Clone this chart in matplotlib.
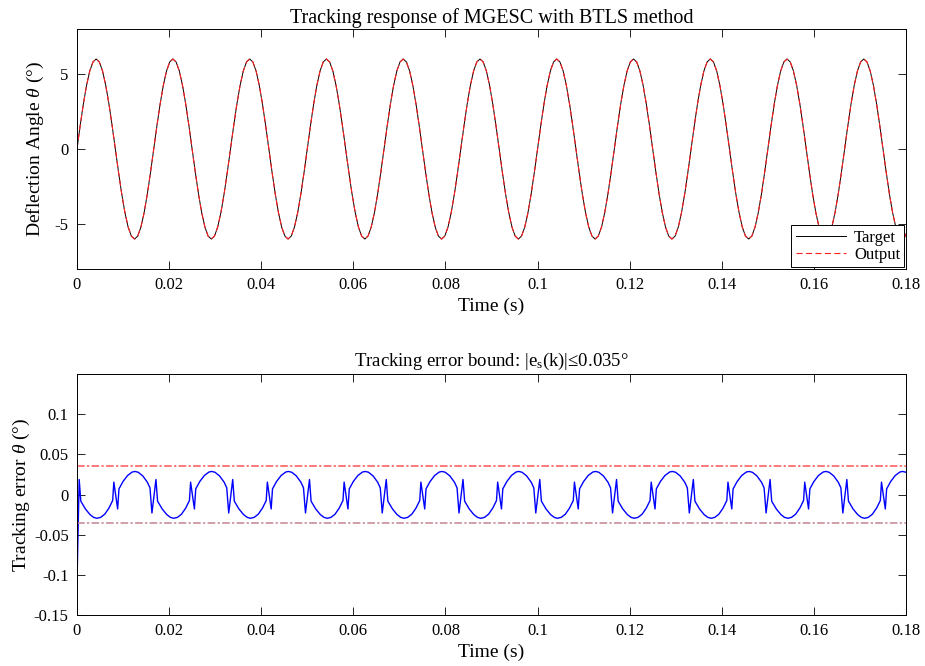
import numpy as np
import matplotlib
matplotlib.use("Agg")
import matplotlib.pyplot as plt

plt.rcParams['font.family'] = ['Liberation Serif', 'DejaVu Serif']
plt.rcParams['mathtext.fontset'] = 'custom'
plt.rcParams['mathtext.rm'] = 'Liberation Serif'
plt.rcParams['mathtext.it'] = 'Liberation Serif:italic'
plt.rcParams['axes.unicode_minus'] = False

# ---- data ----
period = 1 / 60.0          # one cycle of the reference, s
n_cycles = 11
# one cycle of the target angle (deg), 24 samples
target_cycle = [0.0, 1.55, 3.0, 4.24, 5.2, 5.8, 6.0, 5.8, 5.2, 4.24, 3.0, 1.55,
                0.0, -1.55, -3.0, -4.24, -5.2, -5.8, -6.0, -5.8, -5.2, -4.24, -3.0, -1.55]

# one cycle of the tracking error (time in s, value in deg)
err_t = [0.00912, 0.0100, 0.0110, 0.0120, 0.0126, 0.0133, 0.0143, 0.0153, 0.01585,
         0.01628, 0.01715, 0.0175,
         0.0185, 0.0195, 0.0203, 0.0210, 0.0218, 0.0227, 0.0236, 0.02442,
         0.02467, 0.0255]
err_v = [0.007, 0.0162, 0.0237, 0.0280, 0.0287, 0.0277, 0.0231, 0.0152, 0.0083,
         -0.023, 0.0187, -0.0083,
         -0.0180, -0.0250, -0.0285, -0.0296, -0.0285, -0.0245, -0.0170, -0.0075,
         0.0154, -0.018]
err_start = (0.0, -0.112)
bound = 0.035

x_ticks = [0, 0.02, 0.04, 0.06, 0.08, 0.1, 0.12, 0.14, 0.16, 0.18]
x_labels = ['0', '0.02', '0.04', '0.06', '0.08', '0.1', '0.12', '0.14', '0.16', '0.18']
y1_ticks = [-5, 0, 5]
y2_ticks = [-0.15, -0.1, -0.05, 0, 0.05, 0.1]
y2_labels = ['-0.15', '-0.1', '-0.05', '0', '0.05', '0.1']

# build series
m = len(target_cycle)
t_sig = np.arange(m * n_cycles + 1) * period / m
y_target = np.array(target_cycle * n_cycles + [target_cycle[0]])
y_output = y_target.copy()

te, ve = [err_start[0]], [err_start[1]]
for k in range(-1, n_cycles):
    for a, b in zip(err_t, err_v):
        tt = a + k * period
        if 0 < tt <= 0.1805:
            te.append(tt)
            ve.append(b)

fig = plt.figure(figsize=(9.25, 6.66), dpi=100)
ax1 = fig.add_axes([0.0832, 0.596, 0.8963, 0.3605])
ax2 = fig.add_axes([0.0832, 0.0766, 0.8963, 0.3618])

fs = 12
lfs = 14

l1, = ax1.plot(t_sig, y_target, color='black', lw=0.7, label='Target')
l2, = ax1.plot(t_sig, y_output, color='#ff2020', lw=0.8, dashes=(5.5, 3), label='Output')
ax1.set_xlim(0, 0.18)
ax1.set_ylim(-8, 8)
ax1.set_yticks(y1_ticks)
ax1.set_yticklabels([str(v) for v in y1_ticks])
ax1.set_title('Tracking response of MGESC with BTLS method', fontsize=14.5, pad=4)
ax1.set_xlabel('Time (s)', fontsize=lfs, labelpad=3)
ax1.set_ylabel(r'Deflection Angle $\it{\theta}$ (°)', fontsize=lfs, labelpad=6)
leg = ax1.legend(loc='lower right', fontsize=12, fancybox=False, framealpha=1,
                 edgecolor='black', borderaxespad=0.1, handlelength=3.0,
                 borderpad=0.25, labelspacing=0.1, handletextpad=0.5)
leg.get_frame().set_linewidth(0.7)

ax2.plot(te, ve, color='#0000ff', lw=1.0)
ax2.axhline(bound, color='#ff5555', lw=1.1, linestyle=(0, (5, 1.5, 1.5, 1.5)))
ax2.axhline(-bound, color='#c4858f', lw=1.1, linestyle=(0, (5, 1.5, 1.5, 1.5)))
ax2.set_xlim(0, 0.18)
ax2.set_ylim(-0.15, 0.15)
ax2.set_yticks(y2_ticks)
ax2.set_yticklabels(y2_labels)
ax2.set_title(r'Tracking error bound: |e$_\mathrm{s}$(k)|≤0.035°', fontsize=13.5, pad=6)
ax2.set_xlabel('Time (s)', fontsize=lfs, labelpad=3)
ax2.set_ylabel(r'Tracking error $\it{\theta}$ (°)', fontsize=lfs, labelpad=1)

for ax in (ax1, ax2):
    ax.set_xticks(x_ticks)
    ax.set_xticklabels(x_labels)
    ax.tick_params(direction='in', length=6, width=0.6, top=True, right=True,
                   labelsize=fs, pad=6)
    for s in ax.spines.values():
        s.set_linewidth(0.7)

fig.savefig('out.png', dpi=100)
